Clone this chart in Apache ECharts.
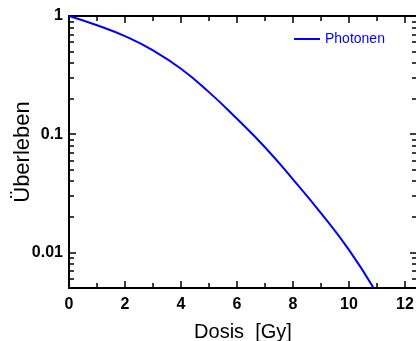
<!DOCTYPE html>
<html><head><meta charset="utf-8">
<script src="https://cdn.jsdelivr.net/npm/echarts@6/dist/echarts.min.js"></script>
<style>html,body{margin:0;padding:0;background:#fff}#c{width:416px;height:341px}</style>
</head><body><div id="c"></div>
<script>
var doses = [0, 1, 2, 3, 4, 5, 6, 7, 8, 9, 10, 10.88];
var survival = [1, 0.835, 0.675, 0.512, 0.358, 0.227, 0.135, 0.0775, 0.0415, 0.0215, 0.0105, 0.005];
var seriesName = 'Photonen';
var xMajorTicks = [0, 2, 4, 6, 8, 10, 12];
var xMinorTicks = [1, 3, 5, 7, 9, 11];
var yMajorTicks = [0.01, 0.1, 1];
var yMinorTicks = [0.006, 0.007, 0.008, 0.009, 0.02, 0.03, 0.04, 0.05, 0.06, 0.07, 0.08, 0.09,
                   0.2, 0.3, 0.4, 0.5, 0.6, 0.7, 0.8, 0.9];
var xMin = 0, xMax = 12.43, yMin = 0.005, yMax = 1;

var tickFontFamily = '"Liberation Sans", Arial, sans-serif';
var black = {color: '#000', width: 2};

function xAx(pos, ticks, len, showLine, showLabel, extra) {
  return Object.assign({
    type: 'value', position: pos, min: xMin, max: xMax,
    axisLine: {show: showLine, onZero: false, lineStyle: black},
    axisTick: {show: true, inside: true, length: len, customValues: ticks, lineStyle: {color: '#000', width: 1.5}},
    axisLabel: {show: showLabel, customValues: ticks, margin: 9,
      fontFamily: tickFontFamily, fontWeight: 'bold', fontSize: 16, color: '#000'},
    splitLine: {show: false}
  }, extra || {});
}
function yAx(pos, ticks, len, showLine, showLabel, extra) {
  return Object.assign({
    type: 'log', logBase: 10, position: pos, min: yMin, max: yMax,
    axisLine: {show: showLine, onZero: false, lineStyle: black},
    axisTick: {show: true, inside: true, length: len, customValues: ticks, lineStyle: {color: '#000', width: 1.5}},
    axisLabel: {show: showLabel, customValues: ticks, margin: 6,
      fontFamily: tickFontFamily, fontWeight: 'bold', fontSize: 16, color: '#000',
      formatter: function (v) { return String(+(+v).toPrecision(3)); }},
    splitLine: {show: false}
  }, extra || {});
}

var chart = echarts.init(document.getElementById('c'), null, {renderer: 'canvas'});
chart.setOption({
  animation: false,
  backgroundColor: '#fff',
  grid: {left: 69, top: 16, right: -1, bottom: 53, containLabel: false, outerBoundsMode: 'none'},
  legend: {
    data: [{name: seriesName, icon: 'rect'}], left: 289, top: 27, itemWidth: 26, itemHeight: 2, itemGap: 5,
    textStyle: {color: '#0000ff', fontSize: 14, fontFamily: 'Arial, "Liberation Sans"'}
  },
  xAxis: [
    xAx('bottom', xMajorTicks, 7, true, true, {
      name: 'Dosis  [Gy]', nameLocation: 'middle', nameGap: 34, nameMoveOverlap: false,
      nameTextStyle: {fontSize: 20, fontFamily: 'Arial, "Liberation Sans"', color: '#000'}
    }),
    xAx('bottom', xMinorTicks, 5, false, false),
    xAx('top', xMajorTicks, 7, true, false),
    xAx('top', xMinorTicks, 5, false, false)
  ],
  yAxis: [
    yAx('left', yMajorTicks, 7, true, true, {
      name: 'Überleben', nameLocation: 'middle', nameGap: 35, nameRotate: 90, nameMoveOverlap: false,
      nameTextStyle: {fontSize: 22, fontFamily: 'Arial, "Liberation Sans"', color: '#000'}
    }),
    yAx('left', yMinorTicks, 5, false, false),
    yAx('right', yMajorTicks, 7, true, false),
    yAx('right', yMinorTicks, 5, false, false)
  ],
  series: [{
    name: seriesName, type: 'line', xAxisIndex: 0, yAxisIndex: 0,
    data: doses.map(function (d, i) { return [d, survival[i]]; }),
    smooth: 0.5, symbol: 'none', clip: true,
    lineStyle: {color: '#0000ff', width: 2}, itemStyle: {color: '#0000ff'}
  }]
});
</script></body></html>
